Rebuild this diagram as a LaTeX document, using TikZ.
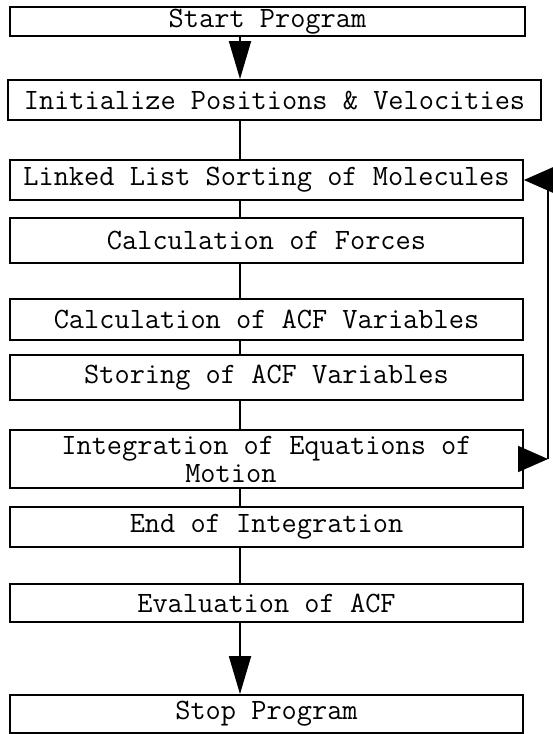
\documentclass[tikz,border=0pt]{standalone}
\usepackage{fontspec}
\usepackage{tikz}
\usetikzlibrary{arrows.meta}
\newcommand*{\lw}{1.8}

\begin{document}
\begin{tikzpicture}[
   x=1pt, y=-1pt,
   stepbox/.style={rectangle, draw=black, line width=\lw, text=black,
                   font=\ttfamily\fontsize{29.5}{28}\selectfont,
                   inner sep=0, minimum width=513, minimum height=40},
   link/.style={draw=black, line width=\lw},
   flow/.style={link, -{Triangle[length=38pt, width=22pt]}},
   back/.style={link, -{Triangle[length=30pt, width=26pt]}}
  ]

  \useasboundingbox (0, 0) rectangle (552, 734);

  % Column of steps
  \node (start)  at (267.5, 21.5) [stepbox, minimum width=515, minimum height=29] {Start Program};
  \node (init)   at (274.5, 100)  [stepbox, minimum width=533] {Initialize Positions \& Velocities};
  \node (linked) at (266.5, 180)  [stepbox] {Linked List Sorting of Molecules};
  \node (forces) at (266.5, 240.5) [stepbox, minimum height=45] {Calculation of Forces};
  \node (acf)    at (266.5, 319.5) [stepbox, minimum height=41] {Calculation of ACF Variables};
  \node (store)  at (266.5, 377.5) [stepbox, minimum height=45] {Storing of ACF Variables};
  \node (integ)  at (266.5, 459)  [stepbox, minimum height=58, align=left]
        {Integration of Equations of\\\hspace*{4.2em}Motion};
  \node (endint) at (266.5, 527)  [stepbox] {End of Integration};
  \node (eval)   at (266.5, 603)  [stepbox, minimum height=38] {Evaluation of ACF};
  \node (stop)   at (266.5, 714)  [stepbox, minimum height=38] {Stop Program};

  % Spine and loop lines
  \coordinate (spine) at (240, 0);
  \coordinate (loop) at (548, 0);

  \foreach \B/\E in {init/linked, linked/forces, forces/acf, acf/store,
                     store/integ, integ/endint, endint/eval} {
    \draw[link] (\B.south -| spine) -- (\E.north -| spine);
  }

  \foreach \B/\E in {start/init, eval/stop} {
    \draw[flow] (\B.south -| spine) -- (\E.north -| spine);
  }

  \draw[back] (integ.east) -- (integ.east -| loop);
  \draw[back] (integ.east -| loop) |- (linked.east);

\end{tikzpicture}
\end{document}
